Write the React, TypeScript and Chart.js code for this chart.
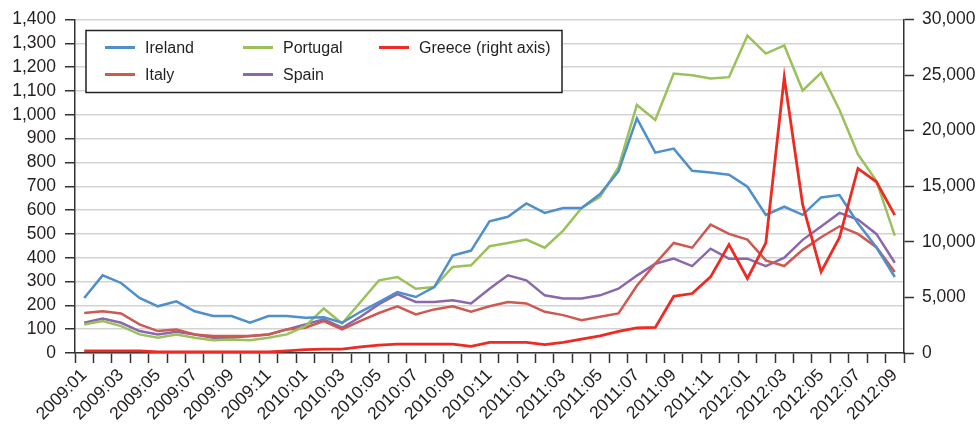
import React, { useEffect, useRef } from "react";
import { Chart, registerables } from "chart.js";

Chart.register(...registerables);

const months: string[] = [];
for (let y = 2009; y <= 2012; y++) {
  for (let m = 1; m <= 12; m++) {
    if (y === 2012 && m > 9) break;
    months.push(`${y}:${String(m).padStart(2, "0")}`);
  }
}

const ireland = [231, 326, 294, 231, 196, 217, 175, 155, 155, 127, 155, 155, 148, 150, 127, 173, 214, 256, 235, 277, 409, 430, 553, 572, 628, 588, 609, 609, 667, 762, 985, 841, 858, 765, 758, 748, 698, 580, 614, 580, 653, 663, 545, 444, 319];
const italy = [168, 175, 166, 120, 92, 99, 78, 71, 71, 71, 78, 99, 106, 134, 99, 135, 168, 196, 162, 183, 196, 173, 196, 214, 208, 173, 159, 138, 152, 166, 282, 375, 462, 442, 539, 500, 476, 389, 365, 433, 486, 532, 500, 444, 340];
const spain = [127, 145, 127, 92, 78, 89, 78, 64, 64, 71, 78, 99, 120, 141, 106, 152, 205, 247, 214, 214, 221, 208, 270, 326, 305, 242, 229, 229, 242, 270, 325, 375, 396, 365, 438, 396, 396, 365, 400, 475, 531, 588, 560, 500, 379];
const portugal = [120, 134, 113, 78, 64, 78, 64, 54, 57, 54, 64, 78, 113, 187, 124, 214, 305, 319, 270, 277, 361, 368, 448, 462, 476, 442, 514, 609, 656, 779, 1041, 978, 1173, 1166, 1152, 1158, 1332, 1257, 1291, 1102, 1176, 1020, 834, 723, 493];
const greece = [200, 200, 200, 200, 100, 100, 100, 100, 100, 100, 100, 200, 300, 350, 350, 550, 700, 800, 800, 800, 800, 600, 950, 950, 950, 750, 950, 1250, 1550, 1950, 2250, 2300, 5100, 5350, 6850, 9750, 6700, 9900, 24800, 13350, 7300, 10400, 16600, 15400, 12400];

const leftTicks = [0, 100, 200, 300, 400, 500, 600, 700, 800, 900, 1000, 1100, 1200, 1300, 1400];
const rightTicks = [0, 5000, 10000, 15000, 20000, 25000, 30000];

const COLORS = {
  ireland: "#4E8FCC",
  italy: "#CC5A51",
  portugal: "#9BC15B",
  spain: "#8B68AD",
  greece: "#EE2B22",
};

const FONT = "'Liberation Sans', Arial, Helvetica, sans-serif";
const AXIS = "#333333";
const TEXT = "#231F20";

const legendItems = [
  { label: "Ireland", color: COLORS.ireland, col: 0, row: 0 },
  { label: "Portugal", color: COLORS.portugal, col: 1, row: 0 },
  { label: "Greece (right axis)", color: COLORS.greece, col: 2, row: 0 },
  { label: "Italy", color: COLORS.italy, col: 0, row: 1 },
  { label: "Spain", color: COLORS.spain, col: 1, row: 1 },
];

const legendPlugin = {
  id: "boxLegend",
  afterDraw(chart: any) {
    const { ctx, chartArea } = chart;
    const bx = chartArea.left + 11;
    const by = chartArea.top + 11;
    const bw = 476;
    const bh = 62;
    ctx.save();
    ctx.fillStyle = "#ffffff";
    ctx.fillRect(bx, by, bw, bh);
    ctx.strokeStyle = "#222";
    ctx.lineWidth = 1.5;
    ctx.strokeRect(bx, by, bw, bh);
    const colX = [19, 157, 293];
    const rowY = [17, 44];
    ctx.font = `16px ${FONT}`;
    ctx.textBaseline = "middle";
    ctx.textAlign = "left";
    for (const it of legendItems) {
      const x = bx + colX[it.col];
      const y = by + rowY[it.row];
      ctx.strokeStyle = it.color;
      ctx.lineWidth = 3;
      ctx.beginPath();
      ctx.moveTo(x, y);
      ctx.lineTo(x + 30, y);
      ctx.stroke();
      ctx.fillStyle = TEXT;
      ctx.fillText(it.label, x + 40, y + 1);
    }
    ctx.restore();
  },
};

export default function App() {
  const ref = useRef<HTMLCanvasElement | null>(null);
  useEffect(() => {
    if (!ref.current) return;
    const mk = (label: string, data: number[], color: string, axis: string, order: number, w = 2.5) => ({
      label,
      data,
      borderColor: color,
      backgroundColor: color,
      borderWidth: w,
      pointRadius: 0,
      tension: 0,
      yAxisID: axis,
      order,
    });
    const fmt = (v: any) => Number(v).toLocaleString("en-US");
    const chart = new Chart(ref.current, {
      type: "line",
      data: {
        labels: months,
        datasets: [
          mk("Greece (right axis)", greece, COLORS.greece, "y1", 0, 2.8),
          mk("Ireland", ireland, COLORS.ireland, "y", 1),
          mk("Portugal", portugal, COLORS.portugal, "y", 2),
          mk("Italy", italy, COLORS.italy, "y", 3),
          mk("Spain", spain, COLORS.spain, "y", 4),
        ],
      },
      options: {
        responsive: false,
        animation: false,
        layout: { padding: { top: 18, left: 0, right: 0, bottom: 0 } },
        plugins: { legend: { display: false }, tooltip: { enabled: false } },
        scales: {
          x: {
            type: "category",
            offset: true,
            grid: {
              offset: true,
              drawOnChartArea: false,
              drawTicks: true,
              tickLength: 10,
              tickColor: AXIS,
              tickWidth: 1.5,
            },
            border: { color: AXIS, width: 1.5 },
            ticks: {
              autoSkip: false,
              maxRotation: 45,
              minRotation: 45,
              padding: 2,
              color: TEXT,
              font: { family: FONT, size: 17.5 },
              callback: (_v: any, i: number) => (i % 2 === 0 ? months[i] : ""),
            },
            afterFit: (s: any) => {
              s.height = 75;
            },
          },
          y: {
            position: "left",
            min: 0,
            max: 1400,
            afterBuildTicks: (s: any) => {
              s.ticks = leftTicks.map((v) => ({ value: v }));
            },
            grid: {
              color: "#d3d3d3",
              lineWidth: 1.5,
              tickLength: 10,
              tickColor: AXIS,
              tickWidth: 1.5,
            },
            border: { color: AXIS, width: 1.5 },
            ticks: {
              autoSkip: false,
              padding: 9,
              color: TEXT,
              font: { family: FONT, size: 17.5 },
              callback: fmt,
            },
            afterFit: (s: any) => {
              s.width = 75;
            },
          },
          y1: {
            position: "right",
            min: 0,
            max: 30000,
            afterBuildTicks: (s: any) => {
              s.ticks = rightTicks.map((v) => ({ value: v }));
            },
            grid: {
              drawOnChartArea: false,
              tickLength: 10,
              tickColor: AXIS,
              tickWidth: 1.5,
            },
            border: { color: AXIS, width: 1.5 },
            ticks: {
              autoSkip: false,
              padding: 8,
              color: TEXT,
              font: { family: FONT, size: 17.5 },
              callback: fmt,
            },
            afterFit: (s: any) => {
              s.width = 76;
            },
          },
        },
      },
      plugins: [legendPlugin],
    } as any);
    return () => chart.destroy();
  }, []);

  return (
    <div style={{ position: "fixed", left: 0, top: 0, width: 980, height: 428, background: "#fff" }}>
      <canvas ref={ref} width={980} height={428} style={{ display: "block" }} />
    </div>
  );
}
